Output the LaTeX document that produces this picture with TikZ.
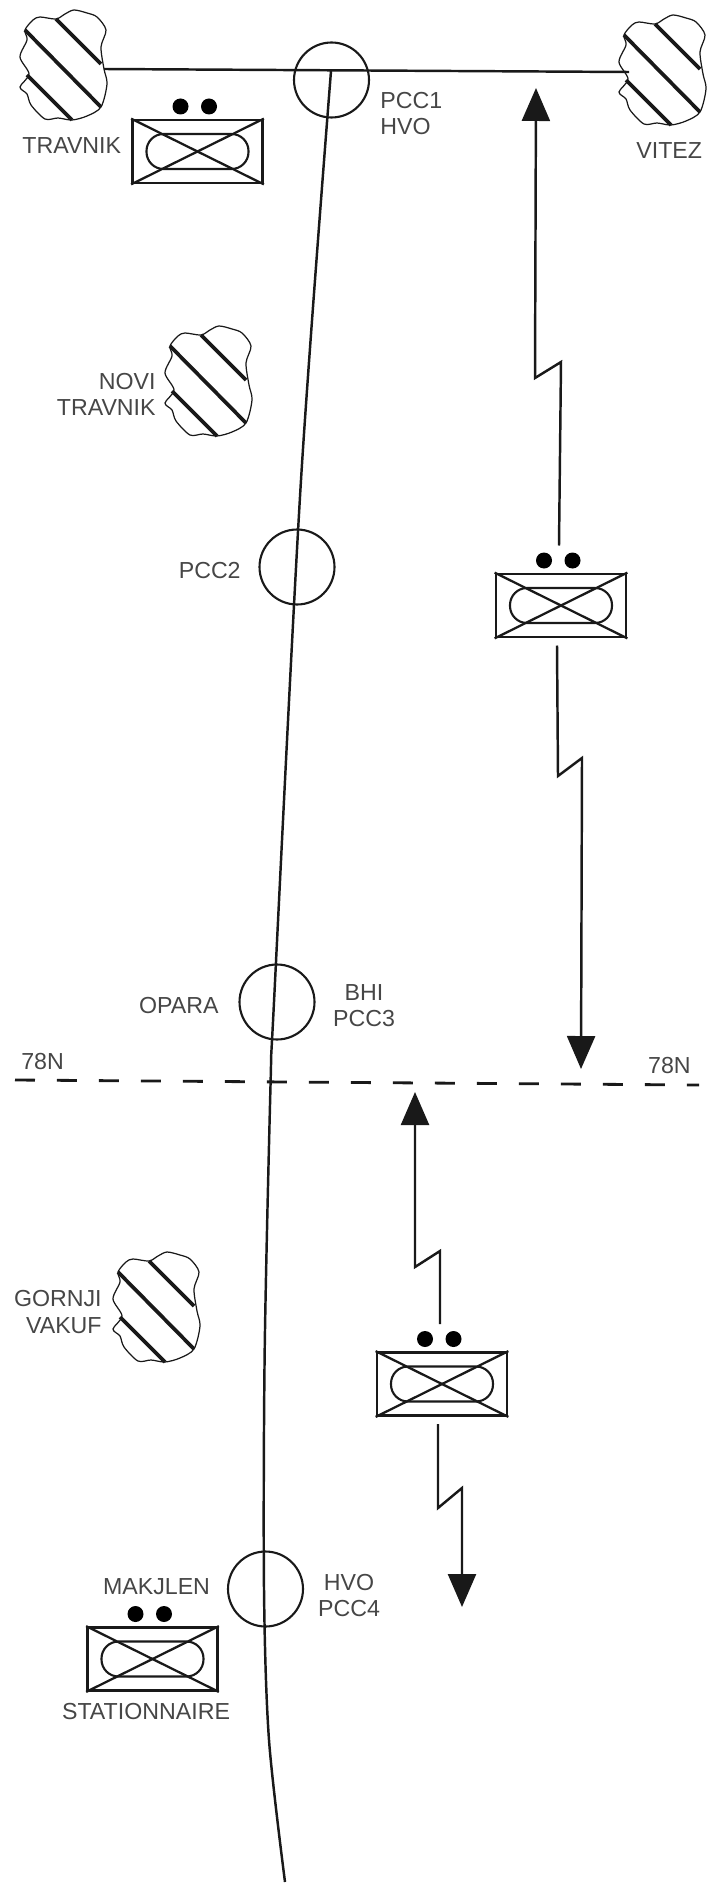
\documentclass[tikz,border=0pt]{standalone}
\usepackage{fontspec}
\setmainfont{Liberation Sans}
\usepackage{xcolor}
\usepackage{tikz}
\usetikzlibrary{arrows.meta,positioning}
\definecolor{inkdark}{RGB}{25,25,25}
\definecolor{labelgray}{RGB}{70,70,70}

\tikzset{
    place/.style={font=\fontsize{13.2}{14.8}\selectfont, text=labelgray, inner sep=0pt},
    pcc/.style={draw=inkdark, circle, minimum size=1.5cm, inner sep=0pt, line width=1.2pt},
    road/.style={draw=inkdark, line width=1.4pt},
    radio/.style={draw=inkdark, line width=1.4pt, -{Triangle[length=.66cm,width=.56cm]}},
    unitbox/.style={draw=inkdark, minimum width=2.6cm, minimum height=1.26cm, inner sep=0pt, line width=1.6pt},
    city/.pic={
        \draw[inkdark, line width=.7pt] plot[smooth cycle, tension=.5] coordinates {
            (-38,-36) (-30,-46) (-23,-49) (-7,-47) (2,-52) (11,-56) (24,-53) (34,-49) (43,-36) (38,-19) (41,3)
            (44,18) (38,41) (24,50) (9,54) (-5,52) (-18,53) (-32,39) (-36,28) (-43,21) (-34,8) (-43,-9) (-36,-26)};
        \draw[inkdark, line width=2.1pt] (-38,-36) -- (38,41);
        \draw[inkdark, line width=2.1pt] (-7,-47) -- (38,-2);
        \draw[inkdark, line width=2.1pt] (-36,9) -- (9,54);
        \coordinate (-e) at (41,3);
        \coordinate (-w) at (-33,1);
    },
    unit/.pic={
        \node[unitbox] (-box) at (0,0) {};
        \draw[inkdark, line width=1.3pt] (-box.north west) -- (-box.south east);
        \draw[inkdark, line width=1.3pt] (-box.south west) -- (-box.north east);
        \draw[inkdark, line width=1.2pt, rounded corners=.34cm] (-51,-17.5) rectangle (51,17.5);
        \fill[black] (-17,-45) circle (8);
        \fill[black] (11.5,-45) circle (8);
        \coordinate (-n) at (-2,-60);
        \coordinate (-s) at (-4,40);
    }
}

\begin{document}
\begin{tikzpicture}[x=.02cm, y=-.02cm]
\useasboundingbox (0,0) rectangle (709,1892);

\pic (travnik) at (63,66) {city};
\pic (vitez) at (662,71) {city};
\pic (novi) at (208,382) {city};
\pic (gornji) at (156,1308) {city};

\pic (unita) at (197.5,151.5) {unit};
\pic (unitb) at (561,605.5) {unit};
\pic (unitc) at (442,1384) {unit};
\pic (unitd) at (152.5,1659) {unit};

\node[pcc] (pcca) at (331.5,80) {};
\node[pcc] (pccb) at (297,567) {};
\node[pcc] (pccc) at (277,1002) {};
\node[pcc] (pccd) at (265.5,1589) {};

\coordinate (junction) at (331,71);
\coordinate (roadend) at (285,1882);
\coordinate (lineleft) at (15,1080);
\coordinate (lineright) at (699,1085);
\coordinate (tipa) at (536,88);
\coordinate (tipb) at (581,1069);
\coordinate (tipc) at (415,1092);
\coordinate (tipd) at (462,1607);

\draw[road] (travnik-e) -- (vitez-w);
\draw[road] plot[smooth, tension=.5] coordinates {(junction) (301,480) (274,1002) (270.6,1082) (264.7,1350) (264,1589) (269,1740) (roadend)};
\draw[road, line width=1.6pt, dash pattern=on .4cm off .44cm] (lineleft) -- (lineright);

\draw[radio] (unitb-n) -- (561,362) -- (535,378) -- (tipa);
\draw[radio] (unitb-s) -- (558,776) -- (582,758) -- (tipb);
\draw[radio] (unitc-n) -- (440,1251) -- (415,1267) -- (tipc);
\draw[radio] (unitc-s) -- (438,1508) -- (462,1488) -- (tipd);

\node[place, anchor=west] (lbltravnik) at (22,146) {TRAVNIK};
\node[place, anchor=west] (lblvitez) at (636,151) {VITEZ};
\node[place, anchor=west, align=left] (lblpcca) at (380,113.5) {PCC1\\HVO};
\node[place, anchor=east, align=right] (lblnovi) at (156,394.5) {NOVI\\TRAVNIK};
\node[place, anchor=east] (lblpccb) at (241,571) {PCC2};
\node[place, anchor=east] (lblopara) at (219,1006) {OPARA};
\node[place, align=center] (lblpccc) at (364,1005.5) {BHI\\PCC3};
\node[place, anchor=west] (lblleft) at (21,1062) {78N};
\node[place, anchor=east] (lblright) at (691,1066) {78N};
\node[place, anchor=east, align=right] (lblgornji) at (102,1312) {GORNJI\\VAKUF};
\node[place] (lblmakjlen) at (156.5,1587) {MAKJLEN};
\node[place] (lblstat) at (146,1711) {STATIONNAIRE};
\node[place, align=center] (lblpccd) at (349,1595.5) {HVO\\PCC4};
\end{tikzpicture}
\end{document}
